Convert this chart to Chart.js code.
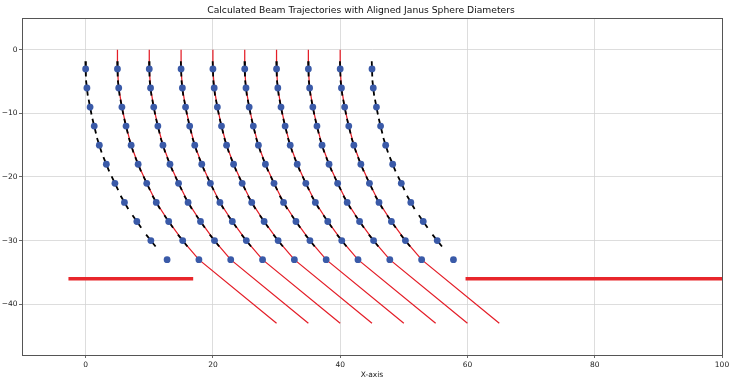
<!DOCTYPE html>
<html lang="en">
<head>
<meta charset="UTF-8">
<title>Calculated Beam Trajectories</title>
<script src="https://cdn.jsdelivr.net/npm/chart.js"></script>
<style>
  html, body { margin: 0; padding: 0; background: #fff; }
</style>
</head>
<body>
<canvas id="beamChart" width="737" height="387"></canvas>
<script>
// x where each beam enters at y = 0
var beamStarts = [0, 5, 10, 15, 20, 25, 30, 35, 40, 45];
// beams that are drawn as red trajectories (outer two only show spheres)
var redBeams = [5, 10, 15, 20, 25, 30, 35, 40];
// sphere centres: depth, and sideways drift from the entry x
var sphereDepths = [-3, -6, -9, -12, -15, -18, -21, -24, -27, -30, -33];
var sphereDrift = [0, 0.2, 0.7, 1.35, 2.15, 3.25, 4.6, 6.1, 8.05, 10.25, 12.8];
// where the red trajectories end (drift from entry, depth)
var exitDrift = 25;
var exitDepth = -43;
// half length of the black diameter drawn through each sphere
var diameterHalf = 1.2;
// the two thick red plates
var plateY = -36;
var leftPlate = [-2.7, 16.9];
var rightPlate = [59.7, 110];

var xTicks = [0, 20, 40, 60, 80, 100];
var yTicks = [0, -10, -20, -30, -40];

var FONT = "'DejaVu Sans', sans-serif";

function minus(v) {
    return v < 0 ? '\u2212' + Math.abs(v) : String(v);
}

var datasets = [];

// sphere markers
var dots = [];
beamStarts.forEach(function(x0) {
    sphereDepths.forEach(function(y, i) {
        dots.push({x: x0 + sphereDrift[i], y: y});
    });
});
datasets.push({
    data: dots,
    pointRadius: 3.4,
    pointBackgroundColor: '#3a5aa8',
    pointBorderWidth: 0,
    showLine: false,
    order: 0
});

// black diameters, aligned with the local direction (last sphere has none)
beamStarts.forEach(function(x0) {
    var seg = [];
    for (var i = 0; i < sphereDepths.length - 1; i++) {
        var px = i === 0 ? 0 : sphereDrift[i - 1];
        var py = i === 0 ? 0 : sphereDepths[i - 1];
        var dx = sphereDrift[i + 1] - px;
        var dy = sphereDepths[i + 1] - py;
        var len = Math.sqrt(dx * dx + dy * dy);
        dx = dx / len * diameterHalf;
        dy = dy / len * diameterHalf;
        var cx = x0 + sphereDrift[i], cy = sphereDepths[i];
        seg.push({x: cx - dx, y: cy - dy});
        seg.push({x: cx + dx, y: cy + dy});
        seg.push({x: cx, y: null});
    }
    datasets.push({
        data: seg,
        showLine: true,
        borderColor: '#000',
        borderWidth: 1.8,
        pointRadius: 0,
        order: 1
    });
});

// red trajectories
redBeams.forEach(function(x0) {
    var pts = [{x: x0, y: 0}];
    sphereDepths.forEach(function(y, i) {
        pts.push({x: x0 + sphereDrift[i], y: y});
    });
    pts.push({x: x0 + exitDrift, y: exitDepth});
    datasets.push({
        data: pts,
        showLine: true,
        borderColor: '#e41e28',
        borderWidth: 1.25,
        pointRadius: 0,
        order: 2
    });
});

// plates
[leftPlate, rightPlate].forEach(function(p) {
    datasets.push({
        data: [{x: p[0], y: plateY}, {x: p[1], y: plateY}],
        showLine: true,
        borderColor: '#e8262b',
        borderWidth: 3.5,
        pointRadius: 0,
        clip: 0,
        order: 3
    });
});

var frame = {
    id: 'frame',
    afterDatasetsDraw: function(chart) {
        var a = chart.chartArea, ctx = chart.ctx;
        ctx.save();
        ctx.strokeStyle = '#555';
        ctx.lineWidth = 1;
        ctx.strokeRect(Math.round(a.left) + 0.5, Math.round(a.top) + 0.5,
            Math.round(a.right - a.left), Math.round(a.bottom - a.top));
        ctx.restore();
    }
};

new Chart(document.getElementById('beamChart'), {
    type: 'scatter',
    data: {datasets: datasets},
    plugins: [frame],
    options: {
        responsive: false,
        animation: false,
        devicePixelRatio: 1,
        layout: {padding: {left: 0, right: 15, top: 0, bottom: 0}},
        plugins: {
            legend: {display: false},
            tooltip: {enabled: false},
            title: {
                display: true,
                text: 'Calculated Beam Trajectories with Aligned Janus Sphere Diameters',
                color: '#111',
                font: {family: FONT, size: 9.2, weight: 'normal'},
                padding: {top: 5, bottom: 2}
            }
        },
        scales: {
            x: {
                type: 'linear',
                min: -10,
                max: 100,
                afterBuildTicks: function(s) { s.ticks = xTicks.map(function(v) { return {value: v}; }); },
                afterFit: function(s) { s.height = 32; },
                grid: {color: '#d4d4d4', lineWidth: 0.8, tickLength: 3, tickColor: '#444'},
                border: {display: true, color: '#555'},
                ticks: {
                    color: '#222', padding: 3, maxRotation: 0,
                    font: {family: FONT, size: 7.5},
                    callback: function(v) { return minus(v); }
                },
                title: {
                    display: true, text: 'X-axis', color: '#222',
                    font: {family: FONT, size: 7.5},
                    padding: {top: 0, bottom: 7.5}
                }
            },
            y: {
                type: 'linear',
                min: -48,
                max: 5,
                afterBuildTicks: function(s) { s.ticks = yTicks.map(function(v) { return {value: v}; }); },
                afterFit: function(s) { s.width = 22; },
                grid: {color: '#d4d4d4', lineWidth: 0.8, tickLength: 3, tickColor: '#444'},
                border: {display: true, color: '#555'},
                ticks: {
                    color: '#222', padding: 1.5,
                    font: {family: FONT, size: 7.5},
                    callback: function(v) { return minus(v); }
                }
            }
        }
    }
});
</script>
</body>
</html>
